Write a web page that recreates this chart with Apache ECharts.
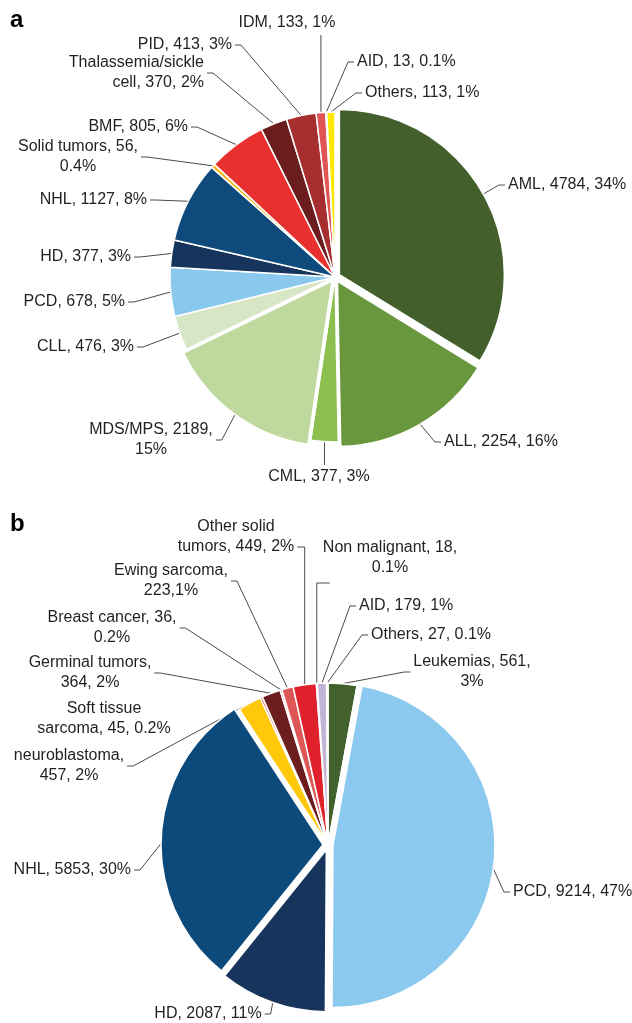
<!DOCTYPE html>
<html>
<head>
<meta charset="utf-8">
<title>pie a / b</title>
<script src="https://cdn.jsdelivr.net/npm/echarts@6.0.0/dist/echarts.min.js"></script>
<style>
  html, body { margin: 0; padding: 0; background: #fff; }
  #chart { width: 632px; height: 1023px; }
</style>
</head>
<body>
<div id="chart"></div>
<script>
// ---- panel a ----
const namesA = ['AML', 'ALL', 'CML', 'MDS/MPS', 'CLL', 'PCD', 'HD', 'NHL', 'Solid tumors', 'BMF',
  'Thalassemia/sickle cell', 'PID', 'IDM', 'AID', 'Others']
const valuesA = [4784, 2254, 377, 2189, 476, 678, 377, 1127, 56, 805, 370, 413, 133, 13, 113]
const labelsA = ['AML, 4784, 34%', 'ALL, 2254, 16%', 'CML, 377, 3%', 'MDS/MPS, 2189,\n15%', 'CLL, 476, 3%',
  'PCD, 678, 5%', 'HD, 377, 3%', 'NHL, 1127, 8%', 'Solid tumors, 56,\n0.4%', 'BMF, 805, 6%',
  'Thalassemia/sickle\ncell, 370, 2%', 'PID, 413, 3%', 'IDM, 133, 1%', 'AID, 13, 0.1%', 'Others, 113, 1%']
const explodeA = ['AML', 'ALL', 'MDS/MPS']

// ---- panel b ----
const namesB = ['Leukemias', 'PCD', 'HD', 'NHL', 'neuroblastoma', 'Soft tissue sarcoma', 'Germinal tumors',
  'Breast cancer', 'Ewing sarcoma', 'Other solid tumors', 'Non malignant', 'AID', 'Others']
const valuesB = [561, 9214, 2087, 5853, 457, 45, 364, 36, 223, 449, 18, 179, 27]
const labelsB = ['Leukemias, 561,\n3%', 'PCD, 9214, 47%', 'HD, 2087, 11%', 'NHL, 5853, 30%',
  'neuroblastoma,\n457, 2%', 'Soft tissue\nsarcoma, 45, 0.2%', 'Germinal tumors,\n364, 2%',
  'Breast cancer, 36,\n0.2%', 'Ewing sarcoma,\n223,1%', 'Other solid\ntumors, 449, 2%',
  'Non malignant, 18,\n0.1%', 'AID, 179, 1%', 'Others, 27, 0.1%']
const explodeB = ['PCD', 'HD', 'NHL']
const noLineB = ['Soft tissue sarcoma']

// colours
const colorsA = ['#43602c', '#69973e', '#8cbf4f', '#bfd89d', '#d7e6c4', '#8bc8ee', '#17355c', '#0e4a7b',
  '#f5b817', '#e8302f', '#6b1c1c', '#a62e2e', '#e05454', '#f29a9a', '#ffe800']
const colorsB = ['#43612d', '#8bc9ee', '#17355c', '#0d4a7c', '#ffc80b', '#e8413c', '#6c1d1d', '#c04545',
  '#df5656', '#e0202a', '#f0c000', '#c2b4d4', '#b0c4d8']

// label spots: x, y, align, where the leader leaves the label
const labelPosA = [
  [508, 185, 'left', 'l'], [444, 442, 'left', 'l'], [319, 477, 'center', 't'], [151, 440, 'center', 'r'],
  [134, 347, 'right', 'r'], [125, 302, 'right', 'r'], [131, 257, 'right', 'r'], [147, 200, 'right', 'r'],
  [78, 157, 'center', 'r'], [188, 127, 'right', 'r'], [204, 73, 'right', 'r'], [232, 45, 'right', 'r'],
  [287, 23, 'center', 'b'], [357, 62, 'left', 'l'], [365, 93, 'left', 'l']
]
const labelPosB = [
  [472, 672, 'center', 'l'], [513, 892, 'left', 'l'], [208, 1014, 'center', 'r'], [131, 870, 'right', 'r'],
  [69, 766, 'center', 'r'], [104, 719, 'center', 'r'], [90, 673, 'center', 'r'], [112, 628, 'center', 'r'],
  [171, 581, 'center', 'r'], [236, 537, 'center', 'br'], [390, 558, 'center', 'bl'],
  [359, 606, 'left', 'l'], [371, 635, 'left', 'l']
]

const FONT = "'Liberation Sans', Arial, Helvetica, sans-serif"
const CENTER_A = [335, 277], R_A = 165
const CENTER_B = [328, 845], R_B = 162
const OFFSET = 5 // how far the pulled-out slices move

function makeLayout(pos) {
  return function (p) {
    const q = pos[p.dataIndex]
    const x = q[0], y = q[1], align = q[2], side = q[3]
    const w = p.labelRect.width, h = p.labelRect.height
    const left = align === 'left' ? x : (align === 'right' ? x - w : x - w / 2)
    const top = y - h / 2
    const res = { x: x, y: y, align: align, verticalAlign: 'middle' }
    const s = p.labelLinePoints && p.labelLinePoints[0]
    if (!s) return res
    let pts
    if (side === 'r') {
      pts = [s, [left + w + 9, y], [left + w + 3, y]]
    } else if (side === 'l') {
      pts = [s, [left - 9, y], [left - 3, y]]
    } else if (side === 'b') {
      pts = [s, [s[0], top + h + 2]]
    } else if (side === 't') {
      pts = [s, [s[0], top - 2]]
    } else if (side === 'br') {
      // down the slice, then back to the end of the 2nd line
      pts = [s, [s[0], top + h - 10], [left + w + 3, top + h - 10]]
    } else {
      pts = [s, [s[0], top + h + 5], [s[0] + 13, top + h + 5]]
    }
    res.labelLinePoints = pts
    return res
  }
}

// main pie: every slice + labels. pulled-out slices are left white here,
// they get drawn again, shifted, by explodeSeries
function pieSeries(center, r, names, values, colors, labels, explode, pos, noLine) {
  return {
    type: 'pie',
    center: center,
    radius: r,
    startAngle: 90,
    clockwise: true,
    avoidLabelOverlap: false,
    silent: true,
    itemStyle: { borderColor: '#fff', borderWidth: 1.5 },
    label: {
      show: true,
      position: 'outside',
      formatter: p => labels[p.dataIndex],
      color: '#231f20',
      fontFamily: FONT,
      fontSize: 16,
      lineHeight: 20
    },
    labelLine: {
      show: true,
      length: 10,
      length2: 10,
      lineStyle: { color: '#4a4a4a', width: 1 }
    },
    labelLayout: makeLayout(pos),
    emphasis: { disabled: true },
    data: names.map((n, i) => {
      const item = {
        name: n,
        value: values[i],
        itemStyle: { color: explode.indexOf(n) >= 0 ? '#fff' : colors[i] }
      }
      if (noLine && noLine.indexOf(n) >= 0) item.labelLine = { show: false }
      return item
    })
  }
}

// one slice, same angles, centre moved out along its middle angle
function explodeSeries(center, r, names, values, colors, name) {
  const total = values.reduce((a, b) => a + b, 0)
  const idx = names.indexOf(name)
  let before = 0
  for (let i = 0; i < idx; i++) before += values[i]
  const ang = -Math.PI / 2 + 2 * Math.PI * (before + values[idx] / 2) / total
  return {
    type: 'pie',
    center: [center[0] + OFFSET * Math.cos(ang), center[1] + OFFSET * Math.sin(ang)],
    radius: r,
    startAngle: 90,
    clockwise: true,
    silent: true,
    label: { show: false },
    labelLine: { show: false },
    emphasis: { disabled: true },
    itemStyle: { borderColor: '#fff', borderWidth: 1.5 },
    data: names.map((n, i) => ({
      name: n,
      value: values[i],
      itemStyle: i === idx ? { color: colors[i] } : { color: 'rgba(0,0,0,0)', borderWidth: 0 }
    }))
  }
}

const chart = echarts.init(document.getElementById('chart'), null, { renderer: 'canvas' })

let series = [
  pieSeries(CENTER_A, R_A, namesA, valuesA, colorsA, labelsA, explodeA, labelPosA),
  pieSeries(CENTER_B, R_B, namesB, valuesB, colorsB, labelsB, explodeB, labelPosB, noLineB)
]
explodeA.forEach(n => series.push(explodeSeries(CENTER_A, R_A, namesA, valuesA, colorsA, n)))
explodeB.forEach(n => series.push(explodeSeries(CENTER_B, R_B, namesB, valuesB, colorsB, n)))

const option = {
  animation: false,
  backgroundColor: '#fff',
  graphic: [
    { type: 'text', left: 10, top: 8, style: { text: 'a', font: 'bold 24px ' + FONT, fill: '#000' } },
    { type: 'text', left: 10, top: 512, style: { text: 'b', font: 'bold 24px ' + FONT, fill: '#000' } }
  ],
  series: series
}

chart.setOption(option)
</script>
</body>
</html>
